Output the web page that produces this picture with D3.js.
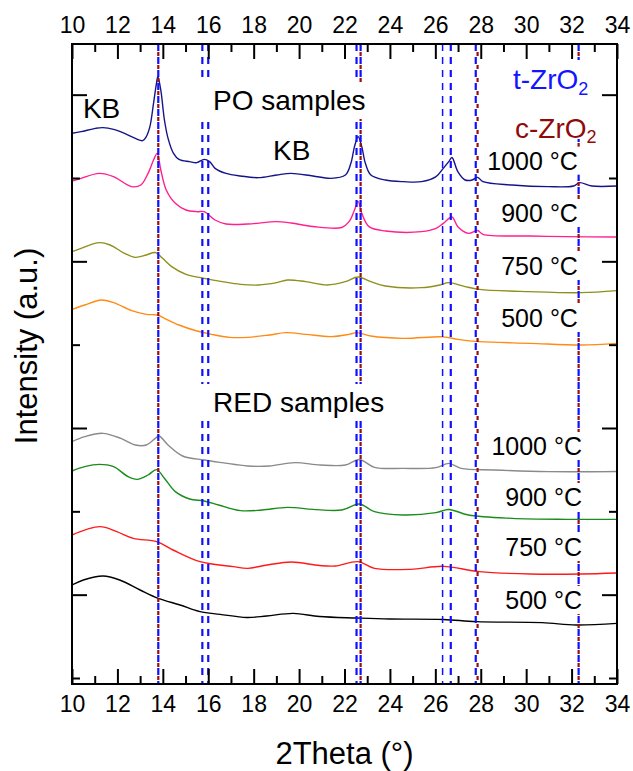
<!DOCTYPE html>
<html>
<head>
<meta charset="utf-8">
<script src="https://cdn.jsdelivr.net/npm/d3@7"></script>
<style>
  body { margin: 0; background: #fff; }
  svg text { font-family: "Liberation Sans", Arial, sans-serif; fill: #000; }
</style>
</head>
<body>
<svg id="chart" width="633" height="771"></svg>
<script>
// ---- DATA (2Theta in degrees, intensity in counts) ----
var xMajorTicks = [10, 12, 14, 16, 18, 20, 22, 24, 26, 28, 30, 32, 34];
var xMinorTicks = [11, 13, 15, 17, 19, 21, 23, 25, 27, 29, 31, 33];
var yMajorTicks = [1000, 3000, 5000, 7000];
var yMinorTicks = [0, 2000, 4000, 6000];

var tZrO2 = [13.80, 15.74, 16.00, 22.53, 22.71, 26.32, 26.68, 27.78, 32.31];
var cZrO2 = [13.80, 22.71, 27.86, 32.31];

var temperatures = ["1000 °C", "900 °C", "750 °C", "500 °C"];
var groupNames = ["PO samples", "RED samples"];

var po1000 = [[10.0,6536],[10.4,6556],[11.04,6596],[11.36,6604],[11.83,6584],[12.31,6536],[12.79,6476],
  [13.11,6448],[13.27,6496],[13.43,6616],[13.59,6896],[13.72,7136],[13.78,7218],[13.91,7056],[14.07,6696],
  [14.23,6476],[14.47,6296],[14.71,6224],[15.18,6196],[15.50,6184],[15.82,6224],[16.06,6196],[16.30,6116],
  [16.78,6056],[17.42,6024],[18.21,6004],[19.01,6036],[19.65,6056],[20.61,6024],[21.40,5996],[22.04,6036],
  [22.28,6176],[22.44,6376],[22.60,6496],[22.76,6376],[22.92,6176],[23.16,6036],[23.80,5976],[24.59,5956],
  [25.39,5956],[26.03,6016],[26.35,6116],[26.59,6196],[26.73,6246],[26.99,6076],[27.31,5976],[27.62,5976],
  [27.86,6008],[28.10,5956],[29.38,5916],[30.97,5896],[32.09,5904],[32.35,5944],[32.89,5904],[34.0,5904]];

var po900 = [[10.0,5964],[10.4,5996],[11.2,6056],[11.83,6016],[12.63,5896],[13.03,5916],[13.35,6056],
  [13.59,6216],[13.75,6296],[13.91,6096],[14.15,5856],[14.55,5696],[15.02,5616],[15.50,5596],[15.82,5596],
  [16.30,5496],[16.78,5448],[17.74,5448],[19.01,5476],[19.65,5460],[20.61,5418],[21.88,5406],[22.20,5476],
  [22.44,5616],[22.60,5720],[22.76,5576],[23.08,5416],[23.80,5364],[25.39,5356],[26.03,5396],[26.35,5456],
  [26.73,5532],[26.99,5416],[27.46,5336],[27.86,5370],[28.10,5324],[30.17,5304],[31.77,5296],[34.0,5292]];

var po750 = [[10.0,5116],[10.4,5156],[11.2,5224],[11.68,5196],[12.31,5096],[12.79,5048],[13.27,5076],
  [13.67,5106],[13.99,5036],[14.39,4936],[15.02,4844],[15.82,4796],[16.62,4756],[17.42,4724],[18.21,4716],
  [19.01,4744],[19.49,4776],[20.29,4756],[21.24,4716],[22.04,4756],[22.60,4812],[23.16,4756],[23.80,4704],
  [25.39,4684],[26.19,4716],[26.59,4744],[27.31,4696],[27.94,4664],[30.17,4636],[32.41,4624],[34.0,4648]];

var po500 = [[10.0,4422],[10.56,4476],[11.28,4536],[11.83,4504],[12.63,4408],[13.27,4364],[13.75,4356],
  [14.07,4316],[14.71,4236],[15.50,4164],[16.14,4124],[16.94,4088],[17.74,4088],[18.69,4116],[19.41,4144],
  [20.29,4124],[21.40,4096],[22.20,4124],[22.55,4144],[23.16,4104],[24.59,4076],[26.35,4094],[26.99,4064],
  [27.94,4036],[30.17,4016],[32.41,3996],[34.0,4016]];

var red1000 = [[10.0,2836],[10.56,2896],[11.36,2936],[12.15,2876],[12.79,2796],[13.27,2796],[13.67,2876],
  [13.83,2904],[14.23,2796],[14.87,2664],[15.82,2616],[16.62,2584],[17.74,2544],[18.69,2544],[19.81,2584],
  [20.93,2556],[22.04,2556],[22.65,2622],[23.32,2528],[24.59,2516],[26.03,2524],[26.59,2576],[27.14,2516],
  [28.58,2496],[30.97,2476],[34.0,2478]];

var red900 = [[10.0,2484],[10.56,2536],[11.2,2564],[11.83,2536],[12.47,2416],[12.87,2384],[13.35,2436],
  [13.72,2500],[14.07,2396],[14.55,2236],[15.18,2148],[15.82,2124],[16.46,2076],[17.42,2008],[18.37,2016],
  [19.49,2048],[20.61,2024],[21.88,2016],[22.65,2088],[23.32,1996],[24.59,1956],[26.03,1984],[26.59,2022],
  [27.46,1956],[29.38,1916],[31.77,1904],[34.0,1904]];

var red750 = [[10.0,1716],[11.23,1816],[11.97,1756],[12.7,1676],[13.73,1636],[14.45,1536],[15.64,1396],
  [17.1,1336],[17.74,1316],[18.6,1356],[19.65,1392],[20.9,1350],[21.6,1344],[22.6,1396],[23.32,1316],
  [24.91,1304],[26.35,1340],[27.94,1276],[30.17,1248],[32.41,1248],[34.0,1260]];

var red500 = [[10.0,1116],[10.5,1176],[11.37,1224],[12.1,1176],[13.0,1056],[13.8,956],[14.76,876],
  [15.64,796],[16.52,764],[17.7,726],[18.57,744],[19.74,776],[20.9,738],[22.54,720],[24.0,708],
  [26.35,702],[27.8,676],[30.7,664],[32.2,636],[34.0,656]];

// ---- LAYOUT ----
var W = 633, H = 771;
var margin = {top: 44, right: 16, bottom: 87, left: 72};
var width = W - margin.left - margin.right;
var height = H - margin.top - margin.bottom;

var series = [
  {data: po1000, color: "#14148a", label: temperatures[0], lx: 32.28, ly: 6100},
  {data: po900, color: "#ff1f8e", label: temperatures[1], lx: 32.28, ly: 5472},
  {data: po750, color: "#8f8f1c", label: temperatures[2], lx: 32.28, ly: 4836},
  {data: po500, color: "#ff8a14", label: temperatures[3], lx: 32.28, ly: 4212},
  {data: red1000, color: "#8a8a8a", label: temperatures[0], lx: 32.46, ly: 2676},
  {data: red900, color: "#1a8c1a", label: temperatures[1], lx: 32.46, ly: 2064},
  {data: red750, color: "#ff1a1a", label: temperatures[2], lx: 32.46, ly: 1464},
  {data: red500, color: "#000000", label: temperatures[3], lx: 32.46, ly: 828}
];

var svg = d3.select("#chart");
var g = svg.append("g").attr("transform", "translate(" + margin.left + "," + margin.top + ")");

var x = d3.scaleLinear().domain([10, 34]).range([0, width]);
var y = d3.scaleLinear().domain([-72, 7608]).range([height, 0]);

g.append("clipPath").attr("id", "clip")
  .append("rect").attr("width", width).attr("height", height);

var plot = g.append("g").attr("clip-path", "url(#clip)");

// curves
var line = d3.line()
  .x(function(d) { return x(d[0]); })
  .y(function(d) { return y(d[1]); })
  .curve(d3.curveCatmullRom.alpha(0.5));

plot.selectAll(".curve")
  .data(series)
  .enter().append("path")
    .attr("class", "curve")
    .attr("d", function(d) { return line(d.data); })
    .attr("fill", "none")
    .attr("stroke", function(d) { return d.color; })
    .attr("stroke-width", 1.4);

// reference lines: t-ZrO2 (blue) and c-ZrO2 (dark red)
plot.selectAll(".tline")
  .data(tZrO2)
  .enter().append("line")
    .attr("class", "tline")
    .attr("x1", function(d) { return x(d); })
    .attr("x2", function(d) { return x(d); })
    .attr("y1", 0).attr("y2", height)
    .attr("stroke", "#1010ff")
    .attr("stroke-width", function(d) { return d === 26.32 ? 1.5 : 2.2; })
    .attr("stroke-dasharray", "7,6");

plot.selectAll(".cline")
  .data(cZrO2)
  .enter().append("line")
    .attr("class", "cline")
    .attr("x1", function(d) { return x(d); })
    .attr("x2", function(d) { return x(d); })
    .attr("y1", 0).attr("y2", height)
    .attr("stroke", "#9a1010")
    .attr("stroke-width", 2.2)
    .attr("stroke-dasharray", "4,9")
    .attr("stroke-dashoffset", -8);

// labels with white boxes (they hide the dashed lines)
function boxedText(parent, txt, px, py, size, anchor, padX, padY) {
  var grp = parent.append("g");
  var t = grp.append("text")
    .attr("x", px).attr("y", py)
    .attr("font-size", size)
    .attr("text-anchor", anchor)
    .text(txt);
  var bb = t.node().getBBox();
  grp.insert("rect", "text")
    .attr("x", bb.x - padX).attr("y", bb.y - padY)
    .attr("width", bb.width + 2 * padX).attr("height", bb.height + 2 * padY)
    .attr("fill", "#fff");
  return grp;
}

// legend
var leg = g.append("g");
var lt = leg.append("text").attr("x", x(29.42)).attr("y", y(7068)).attr("font-size", 28)
  .style("fill", "#1414ff");
lt.append("tspan").text("t-ZrO");
lt.append("tspan").attr("font-size", 18).attr("dy", 6).text("2");
var lc = leg.append("text").attr("x", x(29.51)).attr("y", y(6480)).attr("font-size", 28)
  .style("fill", "#8f0a0a");
lc.append("tspan").text("c-ZrO");
lc.append("tspan").attr("font-size", 18).attr("dy", 5).text("2");
var lb = leg.node().getBBox();
leg.insert("rect", "text")
  .attr("x", lb.x - 4).attr("y", lb.y - 4)
  .attr("width", lb.width + 8).attr("height", lb.height - 4)
  .attr("fill", "#fff");

series.forEach(function(s) {
  boxedText(g, s.label, x(s.lx), y(s.ly), 25, "end", 3, 0);
});

boxedText(g, groupNames[0], x(16.21), y(6816), 28, "start", 16, 3);
boxedText(g, groupNames[1], x(16.21), y(3192), 28, "start", 16, 3);

g.append("text").attr("x", x(10.48)).attr("y", y(6720)).attr("font-size", 28).text("KB");
g.append("text").attr("x", x(18.85)).attr("y", y(6216)).attr("font-size", 28).text("KB");

// axes
function styleAxis(sel) {
  sel.select(".domain").remove();
  sel.selectAll(".tick line").attr("stroke", "#000").attr("stroke-width", 2);
  sel.selectAll(".tick text").attr("font-size", 23).attr("fill", "#000")
    .style("font-family", "'Liberation Sans', Arial, sans-serif");
}

g.append("g").attr("transform", "translate(0," + height + ")")
  .call(d3.axisBottom(x).tickValues(xMajorTicks).tickSize(-15).tickPadding(12).tickFormat(d3.format("d")))
  .call(styleAxis);
g.append("g").attr("transform", "translate(0," + height + ")")
  .call(d3.axisBottom(x).tickValues(xMinorTicks).tickSize(-8).tickFormat(""))
  .call(styleAxis);
g.append("g")
  .call(d3.axisTop(x).tickValues(xMajorTicks).tickSize(-15).tickPadding(11).tickFormat(d3.format("d")))
  .call(styleAxis);
g.append("g")
  .call(d3.axisTop(x).tickValues(xMinorTicks).tickSize(-8).tickFormat(""))
  .call(styleAxis);

g.append("g")
  .call(d3.axisLeft(y).tickValues(yMajorTicks).tickSize(-15).tickFormat(""))
  .call(styleAxis);
g.append("g")
  .call(d3.axisLeft(y).tickValues(yMinorTicks).tickSize(-8).tickFormat(""))
  .call(styleAxis);
g.append("g").attr("transform", "translate(" + width + ",0)")
  .call(d3.axisRight(y).tickValues(yMajorTicks).tickSize(-15).tickFormat(""))
  .call(styleAxis);
g.append("g").attr("transform", "translate(" + width + ",0)")
  .call(d3.axisRight(y).tickValues(yMinorTicks).tickSize(-8).tickFormat(""))
  .call(styleAxis);

// frame
g.append("rect")
  .attr("width", width).attr("height", height)
  .attr("fill", "none").attr("stroke", "#000").attr("stroke-width", 2);

// axis titles
svg.append("text")
  .attr("x", margin.left + width / 2).attr("y", 764)
  .attr("text-anchor", "middle").attr("font-size", 31)
  .text("2Theta (°)");
svg.append("text")
  .attr("transform", "translate(37," + (margin.top + 302) + ") rotate(-90)")
  .attr("text-anchor", "middle").attr("font-size", 31)
  .text("Intensity (a.u.)");
</script>
</body>
</html>
